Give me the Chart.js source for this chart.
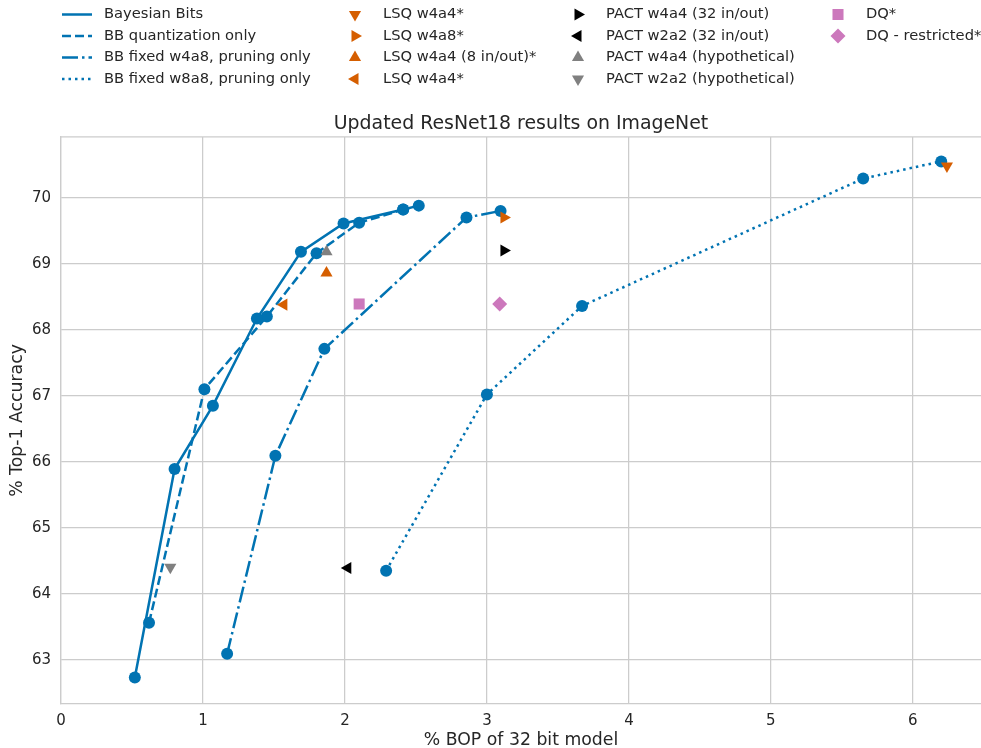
<!DOCTYPE html>
<html>
<head>
<meta charset="utf-8">
<script src="https://cdn.jsdelivr.net/npm/chart.js@4/dist/chart.umd.min.js"></script>
<style>
  html, body { margin: 0; padding: 0; background: #fff; overflow: hidden; }
  #wrap { width: 981px; height: 748px; position: relative; }
</style>
</head>
<body>
<div id="wrap"><canvas id="bopChart"></canvas></div>
<script>
// line series: x = % BOP, y = % top-1
const bbX = [0.52, 0.80, 1.07, 1.38, 1.69, 1.99, 2.41, 2.52];
const bbY = [62.73, 65.89, 66.85, 68.17, 69.18, 69.61, 69.82, 69.88];
const bbQuantX = [0.62, 1.01, 1.45, 1.80, 2.10, 2.41];
const bbQuantY = [63.56, 67.10, 68.20, 69.16, 69.62, 69.82];
const bbW4a8X = [1.17, 1.51, 1.855, 2.856, 3.096];
const bbW4a8Y = [63.09, 66.09, 67.71, 69.70, 69.80];
const bbW8a8X = [2.29, 3.00, 3.67, 5.65, 6.20];
const bbW8a8Y = [64.35, 67.02, 68.36, 70.29, 70.55];

// single-point baselines
const baselineNames = [
  'LSQ w4a4*', 'LSQ w4a8*', 'LSQ w4a4 (8 in/out)*', 'LSQ w4a4*',
  'PACT w4a4 (32 in/out)', 'PACT w2a2 (32 in/out)', 'PACT w4a4 (hypothetical)', 'PACT w2a2 (hypothetical)',
  'DQ*', 'DQ - restricted*'
];
const baselineX = [6.24, 3.12, 1.87, 1.57, 3.12, 2.02, 1.87, 0.77, 2.10, 3.09];
const baselineY = [70.48, 69.70, 68.86, 68.38, 69.20, 64.39, 69.18, 64.40, 68.39, 68.39];

const xTicks = [0, 1, 2, 3, 4, 5, 6];
const yTicks = [63, 64, 65, 66, 67, 68, 69, 70];

const blue = '#0173b2';
const orange = '#d55e00';
const pink = '#cc78bc';
const gray = '#808080';
const black = '#000000';

const markerStyles = [
  { color: orange, style: 'triangle', rot: 180, r: 7 },
  { color: orange, style: 'triangle', rot: 90, r: 7 },
  { color: orange, style: 'triangle', rot: 0, r: 7 },
  { color: orange, style: 'triangle', rot: -90, r: 7 },
  { color: black, style: 'triangle', rot: 90, r: 7 },
  { color: black, style: 'triangle', rot: -90, r: 7 },
  { color: gray, style: 'triangle', rot: 0, r: 7 },
  { color: gray, style: 'triangle', rot: 180, r: 7 },
  { color: pink, style: 'rect', rot: 0, r: 7.8 },
  { color: pink, style: 'rectRot', rot: 0, r: 7.5 }
];

const lineSeries = [
  { label: 'Bayesian Bits', xs: bbX, ys: bbY, dash: [] },
  { label: 'BB quantization only', xs: bbQuantX, ys: bbQuantY, dash: [9, 4] },
  { label: 'BB fixed w4a8, pruning only', xs: bbW4a8X, ys: bbW4a8Y, dash: [16, 4, 2.5, 4] },
  { label: 'BB fixed w8a8, pruning only', xs: bbW8a8X, ys: bbW8a8Y, dash: [2.5, 4] }
];

const toPts = (xs, ys) => xs.map((x, i) => ({ x: x, y: ys[i] }));

const datasets = [];
lineSeries.forEach(s => {
  datasets.push({
    label: s.label,
    data: toPts(s.xs, s.ys),
    showLine: true,
    borderColor: blue,
    backgroundColor: blue,
    borderWidth: 2.5,
    borderDash: s.dash,
    pointRadius: 6,
    pointBorderWidth: 0,
    pointBackgroundColor: blue,
    clip: false,
    order: 2
  });
});
baselineNames.forEach((name, i) => {
  const m = markerStyles[i];
  datasets.push({
    label: name,
    data: [{ x: baselineX[i], y: baselineY[i] }],
    showLine: false,
    pointStyle: m.style,
    rotation: m.rot,
    pointRadius: m.r,
    pointBorderWidth: 0,
    pointBackgroundColor: m.color,
    backgroundColor: m.color,
    borderColor: m.color,
    clip: false,
    order: 1
  });
});

const font = 'DejaVu Sans';
const textColor = '#262626';
const gridColor = '#cccccc';

// legend drawn in four columns above the plot, like the original
const topLegend = {
  id: 'topLegend',
  afterDraw(chart) {
    const ctx = chart.ctx;
    const rowY = [14.5, 36, 57.5, 79];
    ctx.save();
    ctx.font = '14.7px "' + font + '"';
    ctx.fillStyle = textColor;
    ctx.textBaseline = 'middle';
    lineSeries.forEach((s, i) => {
      ctx.save();
      ctx.strokeStyle = blue;
      ctx.lineWidth = 2.5;
      ctx.setLineDash(s.dash);
      ctx.beginPath();
      ctx.moveTo(62, rowY[i]);
      ctx.lineTo(92, rowY[i]);
      ctx.stroke();
      ctx.restore();
      ctx.fillText(s.label, 104, rowY[i]);
    });
    const colMarkerX = [355, 578, 838];
    const colTextX = [383, 606, 866];
    baselineNames.forEach((name, i) => {
      const col = Math.floor(i / 4);
      const row = i % 4;
      const m = markerStyles[i];
      ctx.save();
      ctx.fillStyle = m.color;
      ctx.strokeStyle = m.color;
      Chart.helpers.drawPoint(ctx, {
        pointStyle: m.style, rotation: m.rot, radius: m.r, borderWidth: 0
      }, colMarkerX[col], rowY[row]);
      ctx.restore();
      ctx.fillText(name, colTextX[col], rowY[row]);
    });
    ctx.restore();
  }
};

// top spine of the axes box
const topSpine = {
  id: 'topSpine',
  beforeDatasetsDraw(chart) {
    const a = chart.chartArea;
    const ctx = chart.ctx;
    ctx.save();
    ctx.strokeStyle = gridColor;
    ctx.lineWidth = 1.25;
    ctx.beginPath();
    ctx.moveTo(a.left, a.top);
    ctx.lineTo(a.right, a.top);
    ctx.stroke();
    ctx.restore();
  }
};

new Chart(document.getElementById('bopChart'), {
  type: 'scatter',
  data: { datasets: datasets },
  options: {
    responsive: true,
    maintainAspectRatio: false,
    animation: false,
    layout: { padding: 0, autoPadding: false },
    plugins: {
      legend: { display: false },
      tooltip: { enabled: false },
      title: {
        display: true,
        fullSize: false,
        text: 'Updated ResNet18 results on ImageNet',
        color: textColor,
        font: { family: font, size: 18.9, weight: 'normal' },
        padding: { top: 113, bottom: 1.3 }
      }
    },
    scales: {
      x: {
        type: 'linear',
        min: 0,
        max: 6.48,
        afterBuildTicks: s => { s.ticks = xTicks.map(v => ({ value: v })); },
        afterFit: s => { s.height = 44; s.paddingLeft = 0; s.paddingRight = 0; },
        grid: { color: gridColor, lineWidth: 1.25, drawTicks: false },
        border: { color: gridColor, width: 1.25 },
        ticks: { color: textColor, font: { family: font, size: 15 }, padding: 8 },
        title: {
          display: true, text: '% BOP of 32 bit model', color: textColor,
          font: { family: font, size: 17.3 }, padding: { top: 0, bottom: -3 }
        }
      },
      y: {
        type: 'linear',
        min: 62.33,
        max: 70.92,
        afterBuildTicks: s => { s.ticks = yTicks.map(v => ({ value: v })); },
        afterFit: s => { s.width = 61; s.paddingTop = 0; s.paddingBottom = 0; },
        grid: { color: gridColor, lineWidth: 1.25, drawTicks: false },
        border: { color: gridColor, width: 1.25 },
        ticks: { color: textColor, font: { family: font, size: 15 }, padding: 10 },
        title: {
          display: true, text: '% Top-1 Accuracy', color: textColor,
          font: { family: font, size: 17.3 }, padding: { top: 7, bottom: 0 }
        }
      }
    }
  },
  plugins: [topLegend, topSpine]
});
</script>
</body>
</html>
